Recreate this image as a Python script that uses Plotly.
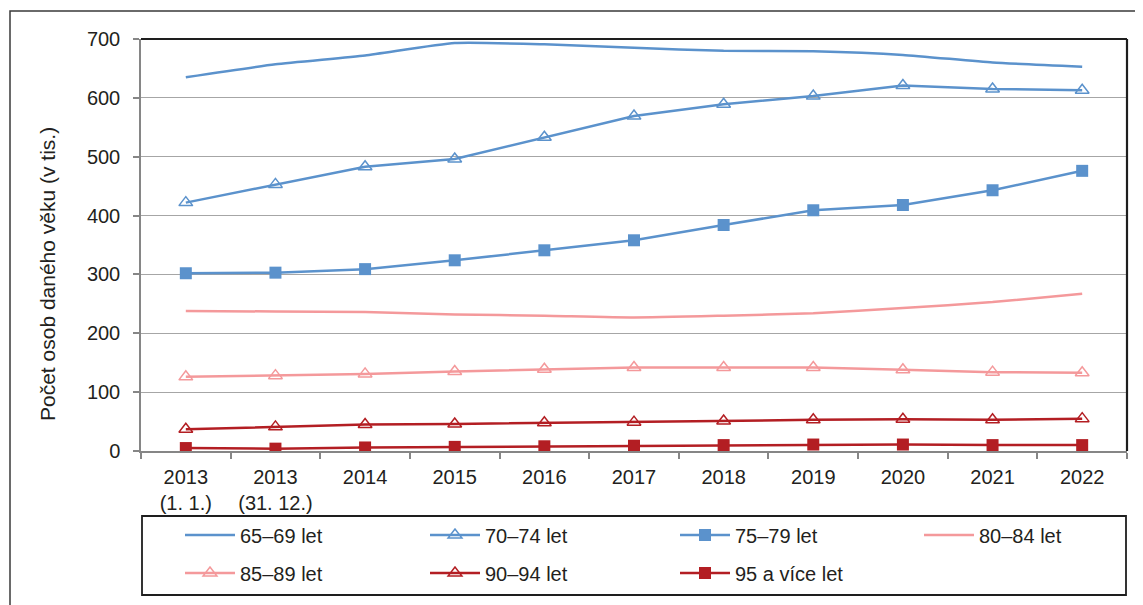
import plotly.graph_objects as go

categories = ["2013<br>(1. 1.)", "2013<br>(31. 12.)", "2014", "2015", "2016", "2017",
              "2018", "2019", "2020", "2021", "2022"]

age_65_69 = [635, 657, 672, 693, 691, 685, 680, 679, 673, 660, 653]
age_70_74 = [422, 453, 483, 496, 533, 569, 589, 603, 621, 615, 613]
age_75_79 = [302, 303, 309, 324, 341, 358, 384, 409, 418, 443, 476]
age_80_84 = [238, 237, 236, 232, 230, 227, 230, 234, 243, 253, 267]
age_85_89 = [126, 128, 131, 135, 139, 142, 142, 142, 138, 134, 133]
age_90_94 = [37, 41, 45, 46, 48, 49, 51, 53, 54, 53, 55]
age_95_plus = [5, 4, 6, 7, 8, 9, 10, 11, 11, 10, 10]

series_names = ["65–69 let", "70–74 let", "75–79 let", "80–84 let",
                "85–89 let", "90–94 let", "95 a více let"]

BLUE = "#5B92CC"
PINK = "#F4999B"
DRED = "#B31E23"
FONT = "Liberation Sans, Arial, sans-serif"
TXT = "#231F20"

# page offset of the plot div (browser body margin)
OFF = 8
W, H = 1143 - OFF, 605 - OFF
PLOT_L, PLOT_R, PLOT_T, PLOT_B = 141, 1127, 39, 451  # page pixel coords
L = PLOT_L - OFF
T = PLOT_T - OFF
R = W - (PLOT_R - OFF)
B = H - (PLOT_B - OFF)
PW = PLOT_R - PLOT_L
PH = PLOT_B - PLOT_T


def px_x(x):
    return (x - PLOT_L) / PW


def px_y(y):
    return (PLOT_B - y) / PH


fig = go.Figure()

legend_ids = ["legend", "legend2", "legend3", "legend4", "legend5", "legend6", "legend7"]
legend_pos = [(180, 535), (425, 535), (675, 535), (919, 535),
              (180, 573), (425, 573), (675, 573)]

specs = [
    (age_65_69, BLUE, None, "spline"),
    (age_70_74, BLUE, "triangle-up-open", "linear"),
    (age_75_79, BLUE, "square", "linear"),
    (age_80_84, PINK, None, "spline"),
    (age_85_89, PINK, "triangle-up-open", "linear"),
    (age_90_94, DRED, "triangle-up-open", "linear"),
    (age_95_plus, DRED, "square", "linear"),
]

for name, lg, (vals, col, sym, shape) in zip(series_names, legend_ids, specs):
    kw = dict(
        x=categories, y=vals, name=name, legend=lg,
        line=dict(color=col, width=2.5, shape=shape, smoothing=0.5 if shape == "spline" else None),
    )
    if sym is None:
        kw["mode"] = "lines"
    else:
        kw["mode"] = "lines+markers"
        if sym == "square":
            kw["marker"] = dict(symbol=sym, size=12, color=col, line=dict(width=0))
        else:
            kw["marker"] = dict(symbol=sym, size=12, color=col, line=dict(width=1.5, color=col))
    fig.add_trace(go.Scatter(**kw))

legends = {}
for lg, (lx, ly) in zip(legend_ids, legend_pos):
    legends[lg] = dict(
        orientation="h", xanchor="left", yanchor="middle",
        x=px_x(lx), y=px_y(ly),
        bgcolor="rgba(0,0,0,0)", borderwidth=0,
        font=dict(family=FONT, size=20, color=TXT),
        itemwidth=50,
    )

fig.update_layout(
    width=W, height=H,
    margin=dict(l=L, r=R, t=T, b=B),
    paper_bgcolor="white", plot_bgcolor="white",
    font=dict(family=FONT, size=20, color=TXT),
    showlegend=True,
    **legends,
    xaxis=dict(
        type="category", tickson="boundaries",
        ticks="outside", ticklen=6, tickcolor="#868686", tickwidth=1.5,
        showline=True, linecolor="#868686", linewidth=1.5,
        showgrid=False, zeroline=False,
        tickfont=dict(family=FONT, size=20, color=TXT),
        ticklabelstandoff=7,
        range=[-0.5, 10.5],
    ),
    yaxis=dict(
        range=[0, 700], dtick=100, tick0=0,
        ticks="outside", ticklen=6, tickcolor="#868686", tickwidth=1.5,
        showline=True, linecolor="#868686", linewidth=1.5,
        showgrid=True, gridcolor="#A6A6A6", gridwidth=1.2,
        zeroline=False,
        tickfont=dict(family=FONT, size=20, color=TXT),
        ticklabelstandoff=9,
    ),
    annotations=[
        dict(
            text="Počet osob daného věku (v tis.)",
            xref="paper", yref="paper", x=px_x(47), y=px_y(274),
            xanchor="center", yanchor="middle", textangle=-90,
            showarrow=False, font=dict(family=FONT, size=21, color=TXT),
        )
    ],
    shapes=[
        # plot-area top and right borders
        dict(type="line", xref="paper", yref="paper", x0=0, x1=1, y0=1, y1=1,
             line=dict(color="#1E1E1E", width=2.2)),
        dict(type="line", xref="paper", yref="paper", x0=1, x1=1, y0=0, y1=1,
             line=dict(color="#1E1E1E", width=2.2)),
        # outer chart frame (partly outside the view)
        dict(type="rect", xref="paper", yref="paper",
             x0=px_x(10), x1=px_x(1160), y0=px_y(640), y1=px_y(11),
             line=dict(color="#3A3A3A", width=1.5), fillcolor="rgba(0,0,0,0)", layer="below"),
        # legend box
        dict(type="rect", xref="paper", yref="paper",
             x0=px_x(142), x1=px_x(1126), y0=px_y(595), y1=px_y(516),
             line=dict(color="#1E1E1E", width=1.8), fillcolor="rgba(0,0,0,0)"),
    ],
)

fig.write_html("out.html")
